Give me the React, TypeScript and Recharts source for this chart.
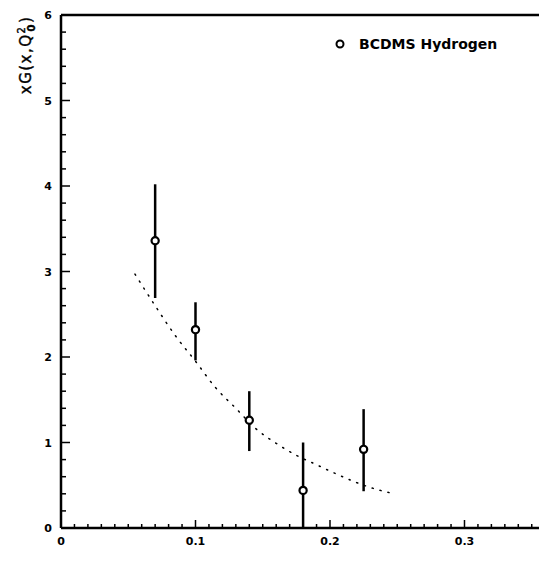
import React from "react";
import { ComposedChart, Scatter, Line, XAxis, YAxis, ErrorBar, ReferenceLine } from "recharts";

const xValues = [0.07, 0.1, 0.14, 0.18, 0.225];
const yValues = [3.36, 2.32, 1.26, 0.44, 0.92];
const errLow = [0.67, 0.36, 0.36, 0.44, 0.49];
const errHigh = [0.66, 0.32, 0.34, 0.56, 0.47];

const curveX = [0.055, 0.07, 0.085, 0.1, 0.115, 0.13, 0.145, 0.16, 0.175, 0.19, 0.205, 0.22, 0.235, 0.245];
const curveY = [2.97, 2.6, 2.25, 1.95, 1.64, 1.4, 1.16, 0.99, 0.85, 0.74, 0.63, 0.53, 0.45, 0.41];

const xTicks = Array.from({ length: 36 }, (_, i) => i / 100);
const xLabels = ["0", "0.1", "0.2", "0.3"];
const yTicks = Array.from({ length: 31 }, (_, i) => i / 5);
const yLabels = ["0", "1", "2", "3", "4", "5", "6"];

const points = xValues.map((x, i) => ({ x, y: yValues[i], err: [errLow[i], errHigh[i]] }));
const curve = curveX.map((x, i) => ({ x, y: curveY[i] }));

const font = "'DejaVu Sans', 'Liberation Sans', Arial, sans-serif";

const renderXTick = (props: any) => {
  const { x, y, payload } = props;
  const v = payload.value;
  const idx = Math.round(v * 100);
  const major = idx % 10 === 0;
  const label = major ? xLabels[idx / 10] : null;
  return (
    <g key={"xt" + idx}>
      <path d={`M${x},${y}V${y - (major ? 8 : 4)}`} stroke="#000" strokeWidth={1.5} fill="none" />
      {label && (
        <text x={x} y={y + 17} textAnchor="middle" fontFamily={font} fontWeight="bold" fontSize={11} fill="#000">
          {label}
        </text>
      )}
    </g>
  );
};

const renderYTick = (props: any) => {
  const { x, y, payload } = props;
  const v = payload.value;
  const idx = Math.round(v * 5);
  const major = idx % 5 === 0;
  const label = major ? yLabels[idx / 5] : null;
  return (
    <g key={"yt" + idx}>
      <path d={`M${x},${y}H${x + (major ? 9 : 5)}`} stroke="#000" strokeWidth={1.5} fill="none" />
      {label && (
        <text x={x - 9} y={y + 4} textAnchor="end" fontFamily={font} fontWeight="bold" fontSize={11} fill="#000">
          {label}
        </text>
      )}
    </g>
  );
};

const Marker = (props: any) => {
  const { cx, cy } = props;
  return <circle cx={cx} cy={cy} r={3.6} fill="#fff" stroke="#000" strokeWidth={2.2} />;
};

const YLabel = () => (
  <text
    x={31}
    y={55}
    transform="rotate(-90 31 55)"
    textAnchor="middle"
    fontFamily={font}
    fontSize={15}
    letterSpacing={1.5}
    fill="#000"
    stroke="#000"
    strokeWidth={0.4}
  >
    xG(x,Q
    <tspan dy={-6} fontSize={10}>2</tspan>
    <tspan dx={-6} dy={10} fontSize={10} fontWeight="bold">0</tspan>
    <tspan dy={-4}>)</tspan>
  </text>
);

export default function App() {
  return (
    <div style={{ position: "absolute", left: 0, top: 0, width: 539, height: 565, background: "#fff" }}>
      <ComposedChart width={539} height={565} margin={{ top: 15, right: 0, bottom: 7, left: 0 }}>
        <XAxis
          type="number"
          dataKey="x"
          domain={[0, 0.3554]}
          ticks={xTicks}
          interval={0}
          tick={renderXTick}
          tickLine={false}
          tickSize={0}
          tickMargin={0}
          height={30}
          axisLine={{ stroke: "#000", strokeWidth: 2.5 }}
          allowDataOverflow
        />
        <YAxis
          type="number"
          dataKey="y"
          domain={[0, 6]}
          ticks={yTicks}
          interval={0}
          tick={renderYTick}
          tickLine={false}
          tickSize={0}
          tickMargin={0}
          width={61}
          axisLine={{ stroke: "#000", strokeWidth: 2.5 }}
          label={<YLabel />}
        />
        <ReferenceLine y={6} stroke="#000" strokeWidth={2.5} ifOverflow="visible" />
        <Line
          data={curve}
          dataKey="y"
          type="monotone"
          stroke="#000"
          strokeWidth={1.5}
          strokeDasharray="1.2 7"
          strokeLinecap="round"
          dot={false}
          isAnimationActive={false}
          legendType="none"
        />
        <Scatter data={points} dataKey="y" shape={<Marker />} isAnimationActive={false} name="BCDMS Hydrogen">
          <ErrorBar dataKey="err" direction="y" width={0} stroke="#000" strokeWidth={2.5} isAnimationActive={false} />
        </Scatter>
      </ComposedChart>
      <div
        style={{
          position: "absolute",
          left: 334,
          top: 36,
          display: "flex",
          alignItems: "center",
          fontFamily: font,
          fontWeight: "bold",
          fontSize: 14,
          color: "#000",
        }}
      >
        <svg width={12} height={12} style={{ marginRight: 13 }}>
          <circle cx={6} cy={6} r={3.5} fill="#fff" stroke="#000" strokeWidth={2} />
        </svg>
        <span>BCDMS Hydrogen</span>
      </div>
    </div>
  );
}
